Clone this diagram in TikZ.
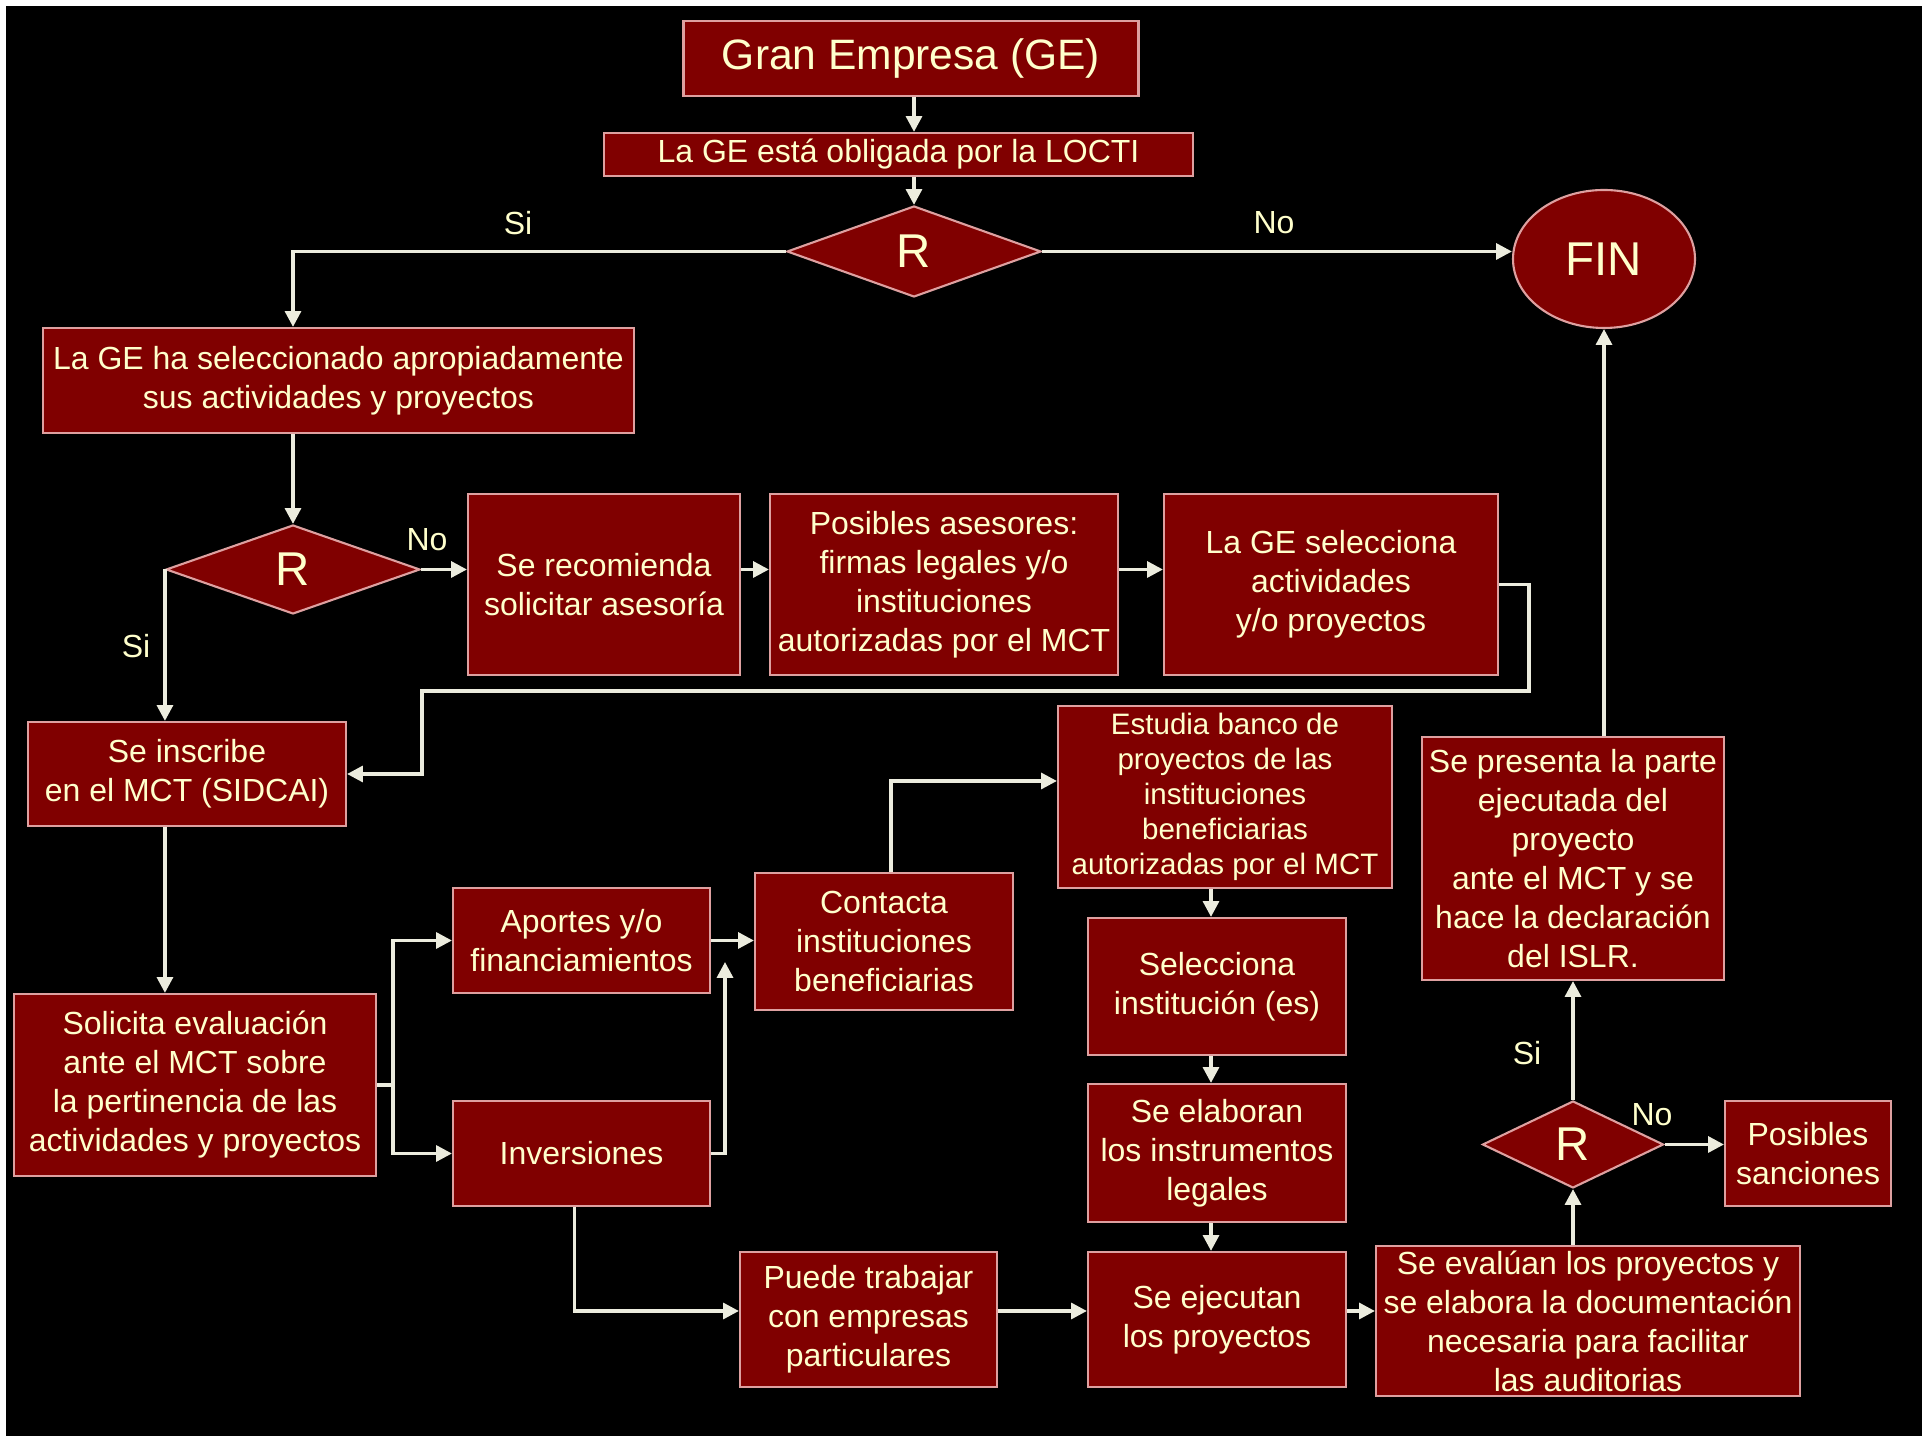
\documentclass[tikz,border=0pt]{standalone}
\usepackage{fontspec}
\setmainfont{Liberation Sans}
\usepackage{xcolor}
\definecolor{fcred}{RGB}{128,0,0}
\definecolor{fcedge}{RGB}{222,160,160}
\definecolor{fctext}{RGB}{255,255,204}
\definecolor{fcline}{RGB}{236,236,222}
\usetikzlibrary{arrows.meta, shapes.geometric}

\begin{document}
\begin{tikzpicture}[
  box/.style={draw=fcedge, fill=fcred, line width=0.6pt, text=fctext,
              align=center, inner sep=0pt, font=\fontsize{9.1}{11.1}\selectfont},
  dec/.style={box, diamond, font=\fontsize{13.5}{16}\selectfont},
  lab/.style={text=fctext, font=\fontsize{9.1}{11.1}\selectfont},
  arr/.style={-{Triangle[width=4.5pt,length=4.5pt]}, fcline, line width=1pt}
]

% --- Background ---
\fill[white] (0,0) rectangle (19.25,-14.36);
\fill[black] (0.06,-0.06) rectangle (19.22,-14.36);
\useasboundingbox (0,0) rectangle (19.25,-14.36);

% --- Start: company and obligation ---
\node[box, minimum width=4.55cm, minimum height=0.75cm,
      font=\fontsize{12.1}{14}\selectfont] (ge) at (9.11,-0.585) {Gran Empresa (GE)};
\node[box, minimum width=5.89cm, minimum height=0.43cm]
      (locti) at (8.985,-1.545) {La GE está obligada por la LOCTI};
\node[dec, minimum width=2.54cm, minimum height=0.91cm] (r1) at (9.14,-2.515) {R};
\node[box, ellipse, minimum width=1.82cm, minimum height=1.38cm,
      font=\fontsize{13.5}{16}\selectfont] (fin) at (16.04,-2.59) {FIN};

\node[lab] (si1) at (5.18,-2.23) {Si};
\node[lab] (no1) at (12.74,-2.23) {No};

% --- Selection of activities ---
\node[box, minimum width=5.91cm, minimum height=1.05cm]
      (sel) at (3.385,-3.805) {La GE ha seleccionado apropiadamente\\sus actividades y proyectos};
\node[dec, minimum width=2.54cm, minimum height=0.89cm] (r2) at (2.93,-5.695) {R};
\node[lab] (no2) at (4.27,-5.40) {No};
\node[lab] (si2) at (1.36,-6.46) {Si};

\node[box, minimum width=2.72cm, minimum height=1.81cm]
      (rec) at (6.04,-5.845) {Se recomienda\\solicitar asesoría};
\node[box, minimum width=3.48cm, minimum height=1.81cm]
      (ase) at (9.44,-5.845) {Posibles asesores:\\firmas legales y/o\\instituciones\\autorizadas por el MCT};
\node[box, minimum width=3.34cm, minimum height=1.81cm]
      (gsel) at (13.31,-5.845) {La GE selecciona\\actividades\\y/o proyectos};

% --- Registration and evaluation ---
\node[box, minimum width=3.18cm, minimum height=1.04cm]
      (ins) at (1.87,-7.74) {Se inscribe\\en el MCT (SIDCAI)};
\node[box, minimum width=3.62cm, minimum height=1.82cm]
      (sol) at (1.95,-10.85) {Solicita evaluación\\ante el MCT sobre\\la pertinencia de las\\actividades y proyectos};
\node[box, minimum width=2.57cm, minimum height=1.05cm]
      (apo) at (5.815,-9.405) {Aportes y/o\\financiamientos};
\node[box, minimum width=2.57cm, minimum height=1.05cm]
      (inv) at (5.815,-11.535) {Inversiones};
\node[box, minimum width=2.58cm, minimum height=1.37cm]
      (con) at (8.84,-9.415) {Contacta\\instituciones\\beneficiarias};
\node[box, minimum width=3.34cm, minimum height=1.82cm, font=\fontsize{8.4}{10}\selectfont]
      (est) at (12.25,-7.97) {Estudia banco de\\proyectos de las\\instituciones\\beneficiarias\\autorizadas por el MCT};
\node[box, minimum width=2.58cm, minimum height=1.37cm]
      (inst) at (12.17,-9.865) {Selecciona\\institución (es)};
\node[box, minimum width=2.58cm, minimum height=1.38cm]
      (ela) at (12.17,-11.53) {Se elaboran\\los instrumentos\\legales};
\node[box, minimum width=2.58cm, minimum height=1.35cm]
      (eje) at (12.17,-13.195) {Se ejecutan\\los proyectos};
\node[box, minimum width=2.57cm, minimum height=1.35cm]
      (pue) at (8.685,-13.195) {Puede trabajar\\con empresas\\particulares};

% --- Audit and closing ---
\node[box, minimum width=4.24cm, minimum height=1.50cm]
      (eva) at (15.88,-13.21) {Se evalúan los proyectos y\\se elabora la documentación\\necesaria para facilitar\\las auditorias};
\node[dec, minimum width=1.81cm, minimum height=0.87cm] (r3) at (15.73,-11.445) {R};
\node[box, minimum width=1.66cm, minimum height=1.05cm]
      (san) at (18.08,-11.535) {Posibles\\sanciones};
\node[box, minimum width=3.02cm, minimum height=2.43cm]
      (pre) at (15.73,-8.585) {Se presenta la parte\\ejecutada del\\proyecto\\ante el MCT y se\\hace la declaración\\del ISLR.};
\node[lab] (si3) at (15.27,-10.53) {Si};
\node[lab] (no3) at (16.52,-11.15) {No};

\coordinate (back) at (4.22,-6.91);
\coordinate (invup) at (7.25,-9.62);
\coordinate (mid) at (12.11,0);
\coordinate (lowrow) at (0,-13.11);

% Arrows, top part
\draw[arr] (ge.south -| r1) -- (locti.north -| r1);
\draw[arr] (locti.south -| r1) -- (r1.north);
\draw[arr] (r1.east) -- (fin.west |- r1.east);
\draw[arr] (r1.west) -| (r2.north |- sel.north);
\draw[arr] (sel.south -| r2.north) -- (r2.north);

% Arrows, advice branch
\draw[arr] (r2.east) -- (rec.west |- r2.east);
\draw[arr] (rec.east |- r2.east) -- (ase.west |- r2.east);
\draw[arr] (ase.east |- r2.east) -- (gsel.west |- r2.east);
\draw[arr] (gsel.east) -- ++(0.30,0) |- (back) |- (ins.east);
\draw[arr] (r2.west) -- (r2.west |- ins.north);
\draw[arr] (r2.west |- ins.south) -- (r2.west |- sol.north);

% Arrows, contributions and investments
\draw[arr] (sol.east) -- ++(0.16,0) |- (apo.west);
\draw[arr] (sol.east) ++(0.16,0) |- (inv.west);
\draw[arr] (apo.east) -- (con.west |- apo.east);
\draw[arr] (inv.east) -| (invup);
\draw[arr] ([xshift=0.07cm]con.north) |- ([yshift=0.16cm]est.west);
\draw[arr] (est.south -| mid) -- (inst.north -| mid);
\draw[arr] (inst.south -| mid) -- (ela.north -| mid);
\draw[arr] (ela.south -| mid) -- (eje.north -| mid);
\draw[arr] ([xshift=-0.07cm]inv.south) |- (pue.west |- lowrow);
\draw[arr] (pue.east |- lowrow) -- (eje.west |- lowrow);
\draw[arr] (eje.east |- lowrow) -- (eva.west |- lowrow);

% Arrows, audit
\draw[arr] (eva.north -| r3) -- (r3.south);
\draw[arr] (r3.east) -- (san.west |- r3.east);
\draw[arr] (r3.north) -- (pre.south -| r3);
\draw[arr] (pre.north -| fin) -- (fin.south);

\end{tikzpicture}
\end{document}
